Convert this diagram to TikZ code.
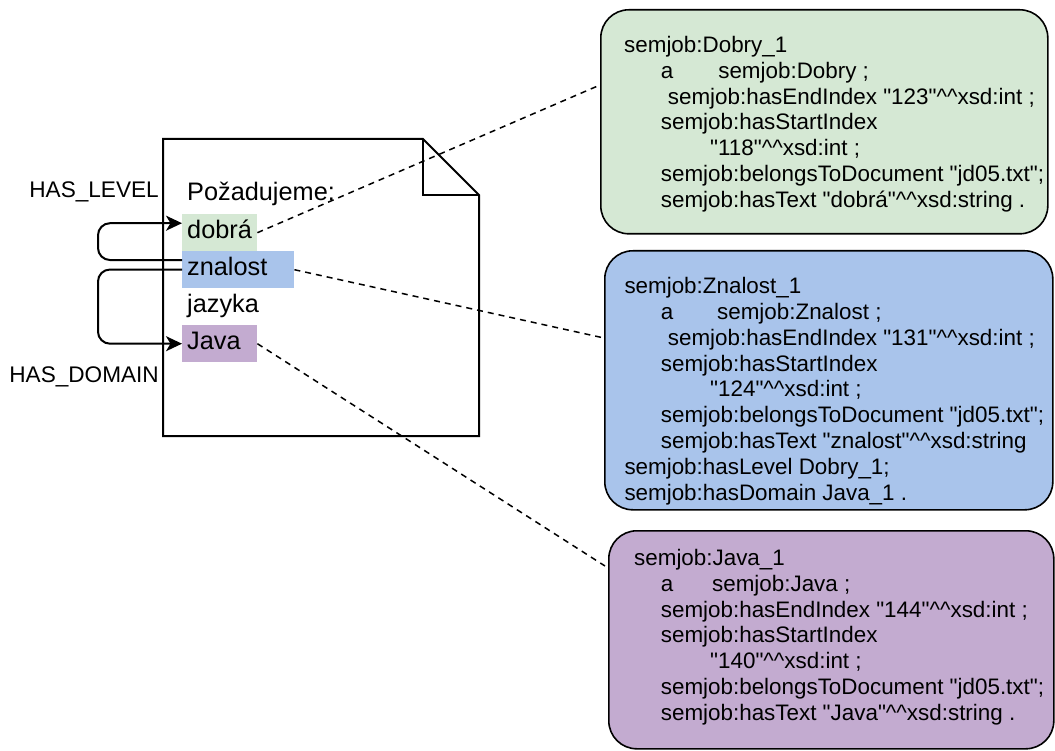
\documentclass[tikz,border=0pt]{standalone}
\usepackage{fontspec}
\setmainfont{Liberation Sans}
\usetikzlibrary{arrows.meta}
\definecolor{lgreen}{HTML}{D5E8D4}
\definecolor{lblue}{HTML}{A9C4EB}
\definecolor{lpurple}{HTML}{C3ABD0}
\newcommand{\hatsx}{\textasciicircum\textasciicircum}
\newcommand{\qq}{\textquotedbl}
\begin{document}
\begin{tikzpicture}[x=1pt,y=-1pt,
  tbox/.style={draw=black, line width=1.6pt, rounded corners=28pt, anchor=north west, inner sep=0pt},
  ttl/.style={anchor=north west, inner sep=0pt, align=left, font=\fontsize{22.4pt}{25.8pt}\selectfont},
  word/.style={anchor=north west, inner ysep=0pt, inner xsep=5pt, minimum height=37pt, text height=18pt, text depth=7pt, align=left, font=\fontsize{25.3pt}{30pt}\selectfont},
  rel/.style={font=\fontsize{22.6pt}{26pt}\selectfont, anchor=east, inner sep=0pt},
  conn/.style={line width=2pt, rounded corners=12pt, -{Stealth[length=16pt,width=15pt,inset=4.5pt]}},
  link/.style={line width=1.5pt, dash pattern=on 6pt off 5pt}
]
\useasboundingbox (0,0) rectangle (1055,751);

% document shape
\draw[line width=2pt, fill=white, line join=miter] (163,139) -- (423,139) -- (479,195) -- (479,436) -- (163,436) -- cycle;
\draw[line width=2pt] (423,139) -- (423,195) -- (479,195);

\node[anchor=west, inner sep=0pt, font=\fontsize{25.3pt}{30pt}\selectfont] (poz) at (187,193.5) {Požadujeme:};
\node[word, fill=lgreen, text width=65pt] (dobra) at (182,214) {dobrá};
\node[word, fill=lblue, text width=102pt] (znalost) at (182,251) {znalost};
\node[word, text width=102pt] (jazyka) at (182,288) {jazyka};
\node[word, fill=lpurple, text width=65pt] (java) at (182,325) {Java};

% relation labels
\node[rel] (hl) at (159,192) {HAS\_LEVEL};
\node[rel] (hd) at (159,377) {HAS\_DOMAIN};

% relation arrows
\draw[conn] ([yshift=9.5pt]znalost.west) -- (98,260) |- ([yshift=9.5pt]dobra.west);
\draw[conn] (znalost.west) -- (98,269.5) |- (java.west);

% triple boxes
\node[tbox, fill=lgreen, minimum width=447pt, minimum height=224pt] (green) at (600,9) {};
\node[tbox, fill=lblue, minimum width=448pt, minimum height=259pt] (blue) at (604,250) {};
\node[tbox, fill=lpurple, minimum width=445pt, minimum height=218pt] (purple) at (608,530) {};

\node[ttl] (gtxt) at (624,36) {semjob:Dobry\_1\\
\hspace*{36.7pt}a\hspace*{45pt}semjob:Dobry ;\\
\hspace*{43.7pt}semjob:hasEndIndex \qq123\qq\hatsx xsd:int ;\\
\hspace*{36.7pt}semjob:hasStartIndex\\
\hspace*{86pt}\qq118\qq\hatsx xsd:int ;\\
\hspace*{36.7pt}semjob:belongsToDocument \qq jd05.txt\qq;\\
\hspace*{36.7pt}semjob:hasText \qq dobrá\qq\hatsx xsd:string .};

\node[ttl] (btxt) at (624.3,277.3) {semjob:Znalost\_1\\
\hspace*{36.4pt}a\hspace*{43.8pt}semjob:Znalost ;\\
\hspace*{43.4pt}semjob:hasEndIndex \qq131\qq\hatsx xsd:int ;\\
\hspace*{36.4pt}semjob:hasStartIndex\\
\hspace*{85.7pt}\qq124\qq\hatsx xsd:int ;\\
\hspace*{36.4pt}semjob:belongsToDocument \qq jd05.txt\qq;\\
\hspace*{36.4pt}semjob:hasText \qq znalost\qq\hatsx xsd:string\\
semjob:hasLevel Dobry\_1;\\
semjob:hasDomain Java\_1 .};

\node[ttl] (ptxt) at (634,549) {semjob:Java\_1\\
\hspace*{26.7pt}a\hspace*{38.8pt}semjob:Java ;\\
\hspace*{26.7pt}semjob:hasEndIndex \qq144\qq\hatsx xsd:int ;\\
\hspace*{26.7pt}semjob:hasStartIndex\\
\hspace*{76pt}\qq140\qq\hatsx xsd:int ;\\
\hspace*{26.7pt}semjob:belongsToDocument \qq jd05.txt\qq;\\
\hspace*{26.7pt}semjob:hasText \qq Java\qq\hatsx xsd:string .};

% dashed links
\coordinate (ge) at (600,85);
\coordinate (be) at (604,338);
\coordinate (pe) at (605,566);
\draw[link] (dobra.east) -- (ge);
\draw[link] (znalost.east) -- (be);
\draw[link] (java.east) -- (pe);
\end{tikzpicture}
\end{document}
